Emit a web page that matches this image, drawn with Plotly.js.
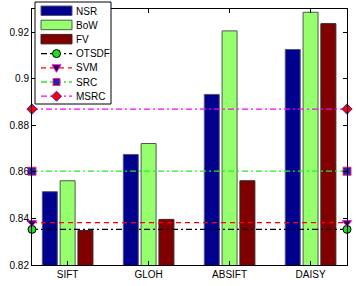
<!DOCTYPE html>
<html><head><meta charset="utf-8">
<script src="https://cdn.plot.ly/plotly-3.0.1.min.js"></script>
<style>html,body{margin:0;padding:0;background:#fff}#c{width:356px;height:286px}</style>
</head><body><div id="c"></div>
<script>
const categories = ['SIFT', 'GLOH', 'ABSIFT', 'DAISY'];
const catPos = [1, 2, 3, 4];
const nsr = [0.8515, 0.8675, 0.8933, 0.9126];
const bow = [0.8562, 0.8722, 0.9206, 0.9286];
const fv  = [0.8348, 0.8396, 0.8562, 0.9237];
const otsdf = 0.8353;
const svm = 0.8382;
const src = 0.8603;
const msrc = 0.8870;
const yTicks = [0.82, 0.84, 0.86, 0.88, 0.9, 0.92];
const seriesNames = ['NSR', 'BoW', 'FV', 'OTSDF', 'SVM', 'SRC', 'MSRC'];

const xr = [0.56, 4.45];
const font = {family: 'Liberation Sans, Arial, sans-serif', size: 10, color: '#000'};
const M = {l: 32, r: 9, t: 9, b: 21, W: 356, H: 286};
const pw = M.W - M.l - M.r, ph = M.H - M.t - M.b;
const px = (x) => (x - M.l) / pw;
const py = (y) => (M.H - M.b - y) / ph;

const DASHDOT = '6px,3px,2px,3px';
const styles = {
  NSR: {color: '#00008f', edge: '#555577'},
  BoW: {color: '#96ff6e', edge: '#4a5a4a'},
  FV: {color: '#800000', edge: '#3a2020'},
  OTSDF: {line: '#000000', dash: DASHDOT, symbol: 'circle', fill: '#22dd22', medge: '#000000'},
  SVM: {line: '#ff0000', dash: '5px,4px', symbol: 'triangle-down', fill: '#220033', medge: '#ff00ff'},
  SRC: {line: '#22ee22', dash: DASHDOT, symbol: 'square', fill: '#2222bb', medge: '#ff2266'},
  MSRC: {line: '#ff00ff', dash: DASHDOT, symbol: 'diamond', fill: '#ff0000', medge: '#2222cc'}
};

function bar(name, y) {
  const s = styles[name];
  return {type: 'bar', name: name, x: catPos, y: y, showlegend: false,
    marker: {color: s.color, line: {color: s.edge, width: 1}}};
}
function hline(name, v) {
  const s = styles[name];
  return {type: 'scatter', mode: 'lines+markers', name: name, showlegend: false,
    x: xr, y: [v, v], cliponaxis: false,
    line: {color: s.line, width: 1.3, dash: s.dash},
    marker: {symbol: s.symbol, size: 8, color: s.fill, line: {color: s.medge, width: 1}}};
}
const traces = [
  bar('NSR', nsr), bar('BoW', bow), bar('FV', fv),
  hline('OTSDF', otsdf), hline('SVM', svm), hline('SRC', src), hline('MSRC', msrc)
];

// Custom legend drawn in paper coordinates (given here in pixels)
const L = {x0: 35, x1: 111, y0: 2, y1: 104, firstY: 11, step: 14.2, sx0: 41, sx1: 72, tx: 75};
const shapes = [];
const annotations = [];
const P = (o) => Object.assign({xref: 'paper', yref: 'paper', layer: 'above'}, o);
const R = (x0, x1, y0, y1) => ({x0: px(x0), x1: px(x1), y0: py(y0), y1: py(y1)});
shapes.push(P(Object.assign({type: 'rect', fillcolor: '#fff', line: {color: '#000', width: 1}}, R(L.x0, L.x1, L.y0, L.y1))));
seriesNames.forEach((n, i) => {
  const cy = L.firstY + i * L.step;
  const s = styles[n];
  const cx = (L.sx0 + L.sx1) / 2;
  if (s.color) {
    shapes.push(P(Object.assign({type: 'rect', fillcolor: s.color, line: {color: s.edge, width: 1}}, R(L.sx0, L.sx1, cy - 5, cy + 4.5))));
  } else {
    shapes.push(P(Object.assign({type: 'line', line: {color: s.line, width: 1.3, dash: s.dash}}, R(L.sx0, L.sx1, cy, cy))));
    const mk = {fillcolor: s.fill, line: {color: s.medge, width: 1}};
    const pt = (x, y) => px(x) + ',' + py(y);
    if (s.symbol === 'circle') shapes.push(P(Object.assign({type: 'circle'}, R(cx - 4, cx + 4, cy - 4, cy + 4), mk)));
    else if (s.symbol === 'square') shapes.push(P(Object.assign({type: 'rect'}, R(cx - 3.5, cx + 3.5, cy - 3.5, cy + 3.5), mk)));
    else if (s.symbol === 'triangle-down') shapes.push(P(Object.assign({type: 'path', path: `M${pt(cx-4.5, cy-3)} L${pt(cx+4.5, cy-3)} L${pt(cx, cy+4.5)} Z`}, mk)));
    else if (s.symbol === 'diamond') shapes.push(P(Object.assign({type: 'path', path: `M${pt(cx, cy-5)} L${pt(cx+5, cy)} L${pt(cx, cy+5)} L${pt(cx-5, cy)} Z`}, mk)));
  }
  annotations.push({xref: 'paper', yref: 'paper', x: px(L.tx), y: py(cy), text: n, showarrow: false,
    xanchor: 'left', yanchor: 'middle', font: font, borderpad: 0});
});

const layout = {
  width: M.W, height: M.H,
  margin: {l: M.l, r: M.r, t: M.t, b: M.b},
  paper_bgcolor: '#fff', plot_bgcolor: '#fff',
  font: font,
  barmode: 'group', bargap: 0.34, bargroupgap: 0.16,
  showlegend: false,
  xaxis: {range: xr, tickvals: catPos, ticktext: categories, showgrid: false, zeroline: false,
    showline: true, linecolor: '#000', linewidth: 1, mirror: 'ticks', ticks: 'inside', ticklen: 4,
    tickcolor: '#000', tickfont: font},
  yaxis: {range: [0.82, 0.93], tickvals: yTicks, showgrid: false, zeroline: false,
    showline: true, linecolor: '#000', linewidth: 1, mirror: 'ticks', ticks: 'inside', ticklen: 4,
    tickcolor: '#000', tickfont: font},
  shapes: shapes,
  annotations: annotations
};
Plotly.newPlot('c', traces, layout, {displayModeBar: false, staticPlot: true});
</script></body></html>
